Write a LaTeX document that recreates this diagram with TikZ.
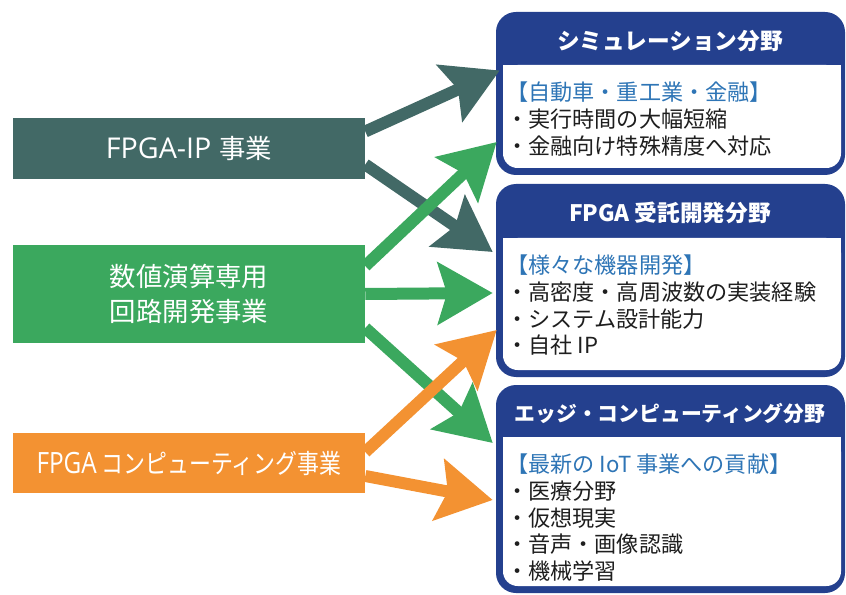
\documentclass[tikz,border=0pt]{standalone}
\usepackage{fontspec}
\setmainfont{Noto Sans CJK JP}
\newfontfamily\latinfont{Open Sans}
\usetikzlibrary{arrows.meta,calc}
\definecolor{ipteal}{RGB}{66,105,102}
\definecolor{numgreen}{RGB}{59,168,94}
\definecolor{comporange}{RGB}{243,146,50}
\definecolor{fieldnavy}{RGB}{36,64,142}
\definecolor{tagblue}{RGB}{46,117,182}
\definecolor{bodygray}{RGB}{30,30,30}

\begin{document}
\begin{tikzpicture}[x=0.75pt,y=0.75pt,yscale=-1,xscale=1,
  bizbox/.style={minimum width=264pt,inner sep=0pt,text=white,align=center,font=\fontsize{19.8}{26.25}\selectfont},
  fieldbox/.style={fill=fieldnavy,rounded corners=15pt,minimum width=261.75pt,inner sep=0pt},
  fieldhead/.style={text=white,font=\fontsize{17}{20}\selectfont\bfseries},
  fieldtext/.style={anchor=north west,align=left,inner sep=0pt,text=bodygray,font=\fontsize{16.6}{19.9}\selectfont},
  flow/.style={line width=9pt,-{Stealth[length=41pt,width=46pt,inset=6.75pt]}}]
\useasboundingbox (0,0) rectangle (846,595);

%Shape: Rectangle (business units)
\node[bizbox,fill=ipteal,minimum height=45.75pt] (ip) at (189,148.5) {{\latinfont\fontsize{21.5}{26}\selectfont FPGA-IP}\hspace{0.3em}事業};
\node[bizbox,fill=numgreen,minimum height=73.5pt] (num) at (189,294) {数値演算専用\\回路開発事業};
\node[bizbox,fill=comporange,minimum height=45pt] (comp) at (189,463) {\scalebox{0.83}[1]{{\latinfont\fontsize{22}{26}\selectfont FPGA} コンピューティング事業}};

%Shape: Rounded Rect (fields)
\node[fieldbox,minimum height=122.25pt] (sim) at (670.5,93.5) {};
\node[fieldbox,minimum height=144.75pt] (ctr) at (670.5,280.5) {};
\node[fieldbox,minimum height=156pt] (edge) at (670.5,489) {};

%Shape: inner white panels
\fill[white,rounded corners=11pt] (503,65) rectangle (841,168);
\fill[white] (503,65) rectangle (841,95);
\fill[white,rounded corners=11pt] (503,238) rectangle (841,370);
\fill[white] (503,238) rectangle (841,268);
\fill[white,rounded corners=11pt] (503,437) rectangle (841,586);
\fill[white] (503,437) rectangle (841,467);

%Text: headers
\node[fieldhead] (simhead) at (670,41) {シミュレーション分野};
\node[fieldhead] (ctrhead) at (670,213) {FPGA 受託開発分野};
\node[fieldhead,font=\fontsize{15.6}{18}\selectfont\bfseries] (edgehead) at (670,413) {エッジ・コンピューティング分野};

%Text: contents
\node[fieldtext] (simtext) at (506,82) {{\color{tagblue}【自動車・重工業・金融】}\\・実行時間の大幅短縮\\・金融向け特殊精度へ対応};
\node[fieldtext] (ctrtext) at (506,255) {{\color{tagblue}【様々な機器開発】}\\・高密度・高周波数の実装経験\\・システム設計能力\\・自社 IP};
\node[fieldtext] (edgetext) at (506,454) {{\color{tagblue}【最新の IoT 事業への貢献】}\\・医療分野\\・仮想現実\\・音声・画像認識\\・機械学習};

%Straight Lines (arrows)
\draw[flow,ipteal] ($(ip.east)+(0,-17)$) -- ($(sim.west)+(4,-23)$);
\draw[flow,ipteal] ($(ip.east)+(0,16)$) -- ($(ctr.west)+(-3,-28.5)$);
\draw[flow,numgreen] ($(num.east)+(0,-28)$) -- ($(sim.west)+(1,48.5)$);
\draw[flow,numgreen] (num.east) -- ($(ctr.west)+(-3,12.5)$);
\draw[flow,numgreen] ($(num.east)+(0,34)$) -- ($(edge.west)+(-3,-46)$);
\draw[flow,comporange] ($(comp.east)+(0,-11)$) -- ($(ctr.west)+(1,49.5)$);
\draw[flow,comporange] ($(comp.east)+(0,13)$) -- ($(edge.west)+(-3,11)$);

\end{tikzpicture}
\end{document}
